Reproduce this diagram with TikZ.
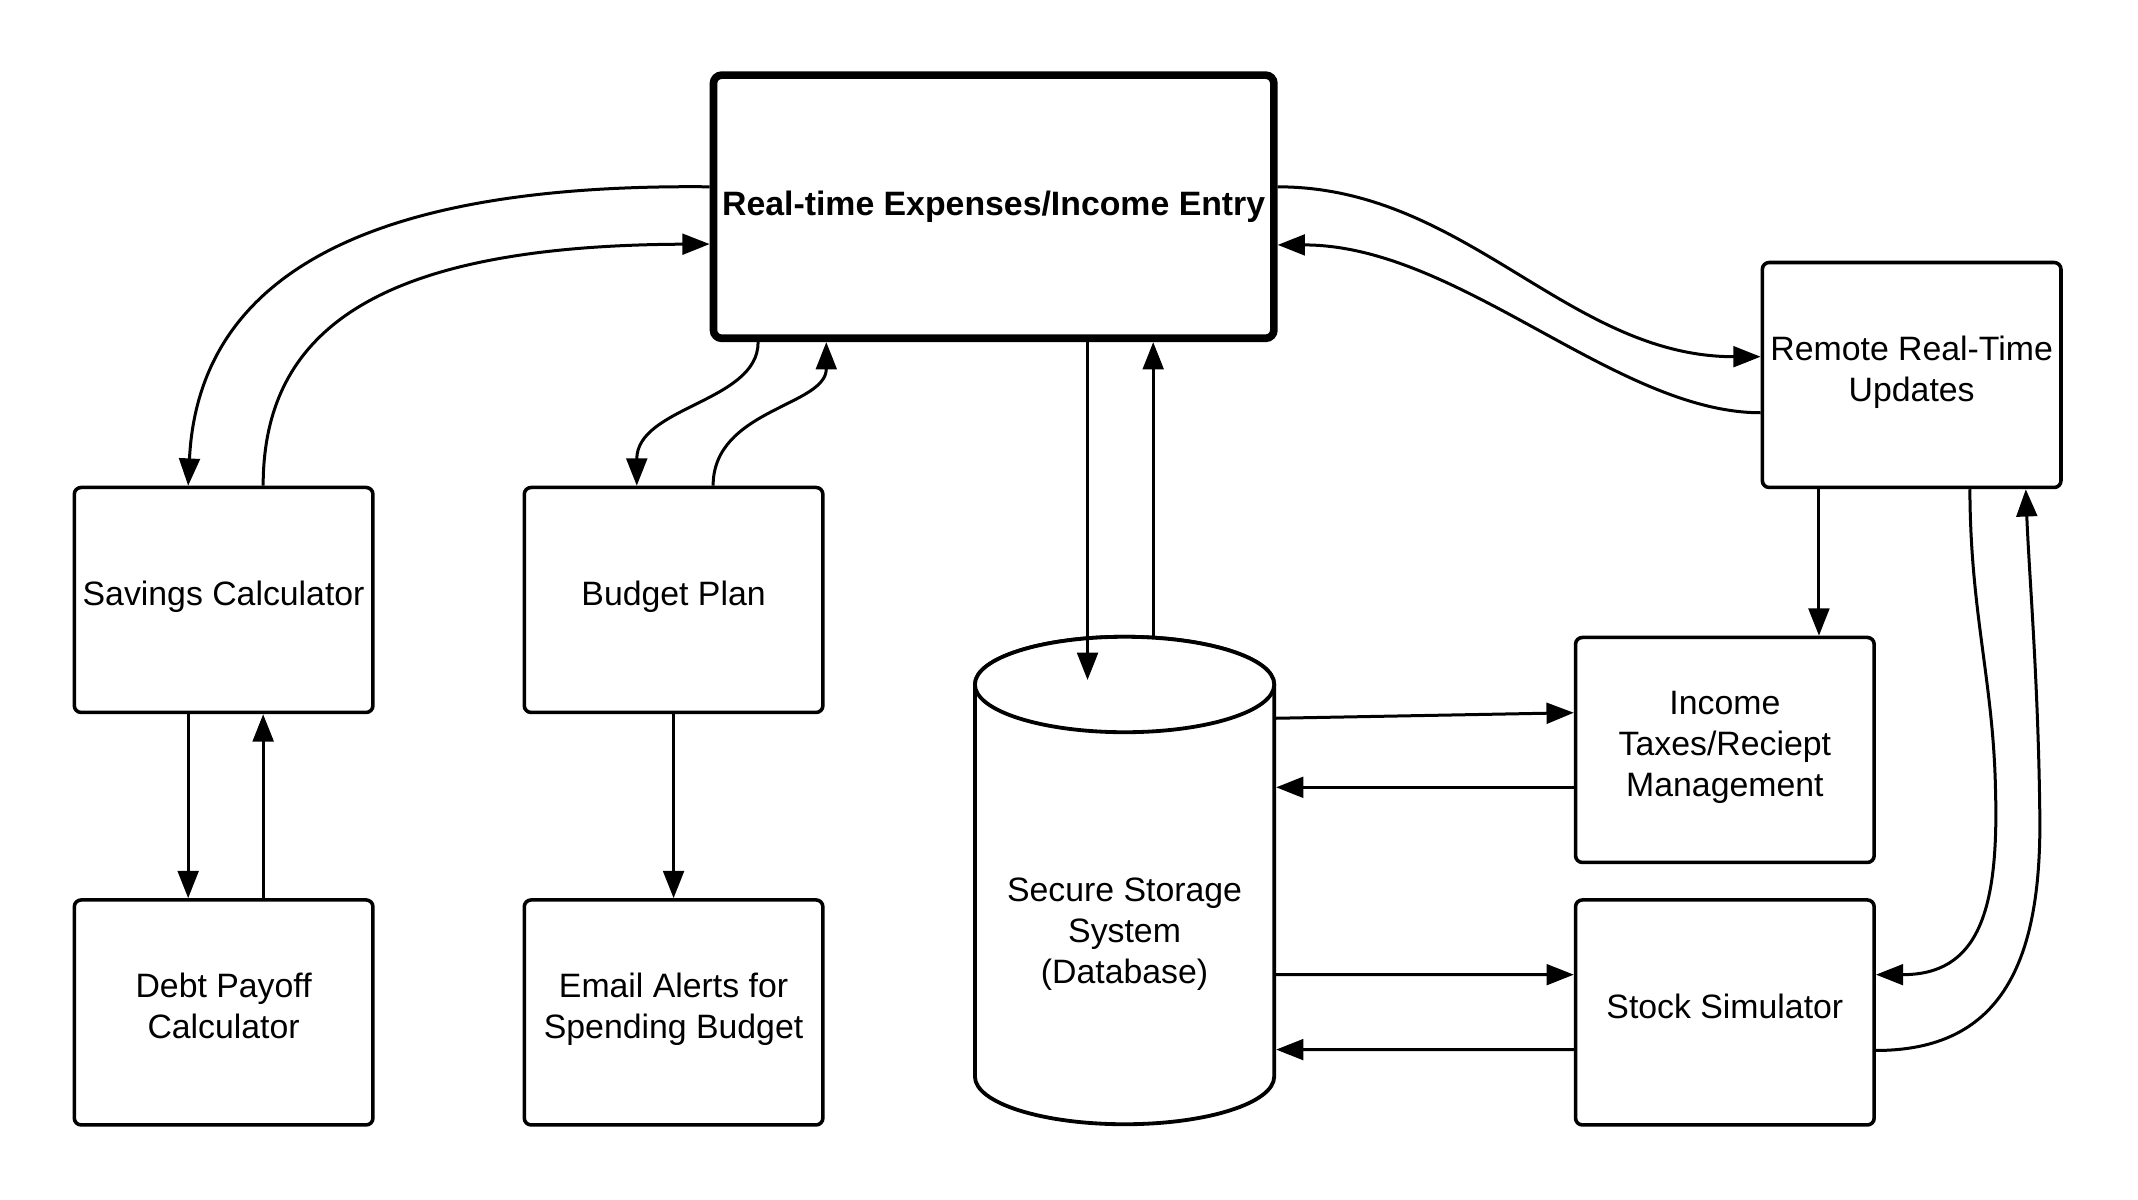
\documentclass[tikz,border=0pt]{standalone}
\usepackage{fontspec}
\setmainfont{Liberation Sans}
\usetikzlibrary{arrows.meta,calc}
\newcommand\boxstrut{\rule[-4.7pt]{0pt}{13.8pt}}
\newcommand\topstrut{\rule[-2.3pt]{0pt}{11.4pt}}
\newcommand\symstrut{\rule[-2.7pt]{0pt}{11.8pt}}
\begin{document}
\begin{tikzpicture}[x=0.5pt,y=-0.5pt,
  lbl/.style={font=\fontsize{12.4}{15}\selectfont, align=center},
  box/.style={lbl, draw, line width=1.3pt, rounded corners=2.5pt, minimum width=109.5pt, minimum height=82.5pt, inner sep=0pt, fill=white,
    execute at begin node=\boxstrut, execute at end node=\boxstrut},
  mainbox/.style={lbl, draw, fill=white, inner sep=0pt, line width=2.8pt, rounded corners=3pt, minimum width=205.5pt, minimum height=96.5pt, font=\fontsize{12.4}{15}\selectfont\bfseries,
    execute at begin node=\topstrut, execute at end node=\topstrut},
  dblabel/.style={lbl, execute at begin node=\symstrut, execute at end node=\symstrut},
  conn/.style={line width=1.1pt, -{Triangle[length=10pt,width=7.6pt]}},
  cyl/.style={line width=1.4pt, fill=white},
]
\fill[white] (0,0) rectangle (1568,880);
\useasboundingbox (0,0) rectangle (1568,880);

% cylinder (database)
\draw[cyl] (715,502) -- (715,789.5) arc[start angle=180,end angle=360,x radius=54.875pt,y radius=17.5pt] -- (934.5,502) arc[start angle=0,end angle=180,x radius=54.875pt,y radius=17.5pt] -- cycle;
\draw[cyl] (824.75,502) ellipse[x radius=54.875pt,y radius=17.5pt];
\node[minimum width=109.75pt, minimum height=178.75pt, inner sep=0pt, outer sep=0.7pt] (db) at (824.75,645.75) {};
\node[dblabel] (dbl) at (824.75,685) {Secure Storage\\System\\(Database)};

% boxes
\node[mainbox] (top) at (728.75,151.6) {Real-time Expenses/Income Entry};
\node[box] (sav) at (164,440) {Savings Calculator};
\node[box] (bud) at (494,440) {Budget Plan};
\node[box] (debt) at (164,742.5) {Debt Payoff\\Calculator};
\node[box] (email) at (494,742.5) {Email Alerts for\\Spending Budget};
\node[box] (remote) at (1402,275) {Remote Real-Time\\Updates};
\node[box] (income) at (1265,550) {Income\\Taxes/Reciept\\Management};
\node[box] (stock) at (1265,742.5) {Stock Simulator};

% connectors
\draw[conn] ($(top.west)+(0,-14.6)$) .. controls (330,135) and (147,172) .. ($(sav.north)+(-26,0)$);
\draw[conn] ($(sav.north)+(29,0)$) .. controls (193,240) and (280,180) .. ($(top.west)+(0,27.4)$);
\draw[conn] ($(top.south)+(-172.75,0)$) .. controls (556,295) and (467,298) .. ($(bud.north)+(-27,0)$);
\draw[conn] ($(bud.north)+(29,0)$) .. controls (523,300) and (606,298) .. ($(top.south)+(-122.75,0)$);
\coordinate (dbin) at (797.6,498.7);
\draw[conn] ($(top.south)+(68.85,0)$) -- (dbin);
\draw[conn] ($(db.north)+(21,3)$) -- ($(top.south)+(117,0)$);
\draw[conn] ($(top.east)+(0,-14.6)$) .. controls (1075,137) and (1150,261.6) .. ($(remote.west)+(0,-13.4)$);
\draw[conn] ($(remote.west)+(0,27.7)$) .. controls (1185,302.7) and (1070,179.7) .. ($(top.east)+(0,28)$);
\draw[conn] ($(remote.south)+(-68,0)$) -- ($(income.north)+(69,0)$);
\draw[conn] ($(remote.south)+(42.7,0)$) .. controls (1445,450) and (1462,500) .. (1463.5,580) .. controls (1466,670) and (1450,714.8) .. ($(stock.east)+(0,-27.7)$);
\draw[conn] ($(stock.east)+(0,27.9)$) .. controls (1465,770.4) and (1497,710) .. (1496,600) .. controls (1495,500) and (1488,420) .. ($(remote.south)+(83.7,0)$);
\draw[conn] ($(db.east)+(0,-119)$) -- ($(income.west)+(0,-27.3)$);
\draw[conn] ($(income.west)+(0,27.4)$) -- ($(db.east)+(0,-68.35)$);
\draw[conn] ($(db.east)+(0,69)$) -- ($(stock.west)+(0,-27.7)$);
\draw[conn] ($(stock.west)+(0,27.3)$) -- ($(db.east)+(0,124)$);
\draw[conn] ($(sav.south)+(-26,0)$) -- ($(debt.north)+(-26,0)$);
\draw[conn] ($(debt.north)+(29,0)$) -- ($(sav.south)+(29,0)$);
\draw[conn] (bud.south) -- (email.north);
\end{tikzpicture}
\end{document}
